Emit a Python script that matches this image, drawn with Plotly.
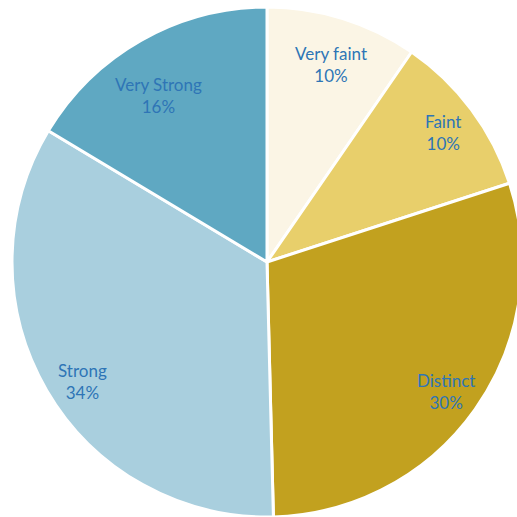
import math
import plotly.graph_objects as go

labels = ["Very faint", "Faint", "Distinct", "Strong", "Very Strong"]
values = [9.6, 10.4, 29.6, 34.0, 16.4]
colors = ["#FBF5E5", "#E8CF6B", "#C2A11F", "#A9CFDE", "#5FA8C2"]

# label placement style (radius fraction and angle tweak in degrees)
label_r = [0.815, 0.857, 0.866, 0.864, 0.781]
label_dang = [0.8, 0.4, 0.6, -2.7, -3.5]

W, H = 522, 517
R = 255
cxp, cyp = 267, 262
x0, x1 = (cxp - R) / W, (cxp + R) / W
y0, y1 = (H - (cyp + R)) / H, (H - (cyp - R)) / H

fig = go.Figure(go.Pie(
    labels=labels, values=values, sort=False, direction="clockwise", rotation=0,
    marker=dict(colors=colors, line=dict(color="white", width=3)),
    textinfo="none", hoverinfo="label+percent", showlegend=False,
    domain=dict(x=[x0, x1], y=[y0, y1]),
))

# label annotations placed from data values
total = sum(values)
cum = 0
for lab, v, lr, da in zip(labels, values, label_r, label_dang):
    mid = (cum + v / 2) / total * 2 * math.pi + math.radians(da)
    cum += v
    rr = lr * R
    px = cxp + rr * math.sin(mid)
    py = cyp - rr * math.cos(mid)
    fig.add_annotation(x=px / W, y=(H - py) / H, xref="paper", yref="paper",
                       xanchor="center", yanchor="middle",
                       text=f"{lab}<br>{round(v / total * 100)}%", showarrow=False,
                       font=dict(family="Lato, Open Sans, sans-serif", size=17, color="#2E75B6"),
                       align="center")

fig.update_layout(width=W, height=H, margin=dict(l=0, r=0, t=0, b=0),
                  paper_bgcolor="white", plot_bgcolor="white")
fig.write_html("out.html", config={"displayModeBar": False},
               post_script="document.body.style.margin='0';document.body.style.overflow='hidden';")
